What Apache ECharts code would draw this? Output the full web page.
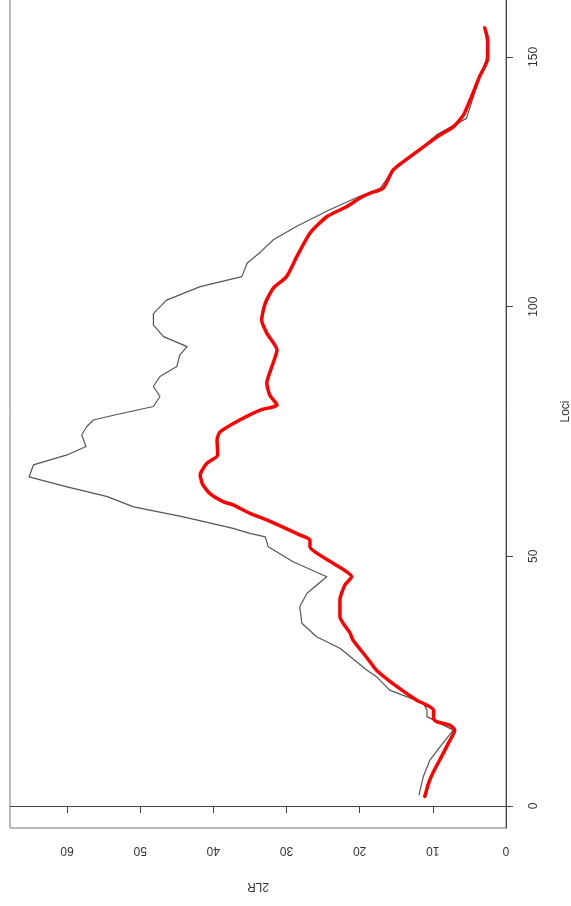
<!DOCTYPE html>
<html>
<head>
<meta charset="utf-8">
<script src="https://cdn.jsdelivr.net/npm/echarts@6/dist/echarts.min.js"></script>
<style>
  html, body { margin: 0; padding: 0; background: #fff; }
  #chart { width: 571px; height: 906px; }
</style>
</head>
<body>
<div id="chart"></div>
<script>
// Loci positions and 2LR values for the two profiles
const grayLoci = [2.2, 5.9, 9.2, 11.9, 15.2, 17.9, 19.2, 20.6, 23.2, 25.9, 27.2, 31.6, 33.9, 36.6, 39.9, 42.6, 45.9, 48.9, 51.9, 53.9, 54.6, 55.6, 57.9, 59.9, 62.0, 63.9, 65.9, 68.3, 70.3, 72.0, 74.3, 76.0, 77.3, 78.3, 80.0, 82.0, 84.0, 86.0, 88.0, 90.3, 92.0, 94.0, 96.3, 98.6, 101.3, 104.0, 106.0, 108.7, 111.0, 113.4, 116.1, 119.4, 122.1, 123.7, 127.4, 131.0, 134.4, 137.7, 144.1, 149.5, 152.8, 156.1];
const grayLR   = [11.9, 11.3, 10.4, 9.0, 7.2, 10.8, 10.8, 11.3, 15.9, 17.7, 19.0, 22.7, 25.9, 27.9, 28.2, 27.2, 24.5, 29.1, 32.5, 32.9, 35.0, 37.3, 44.1, 50.9, 54.6, 60.0, 65.2, 64.6, 60.0, 57.4, 58.0, 57.3, 56.4, 53.5, 48.2, 47.3, 48.2, 47.3, 45.0, 44.6, 43.6, 46.8, 48.2, 48.2, 46.4, 41.8, 36.1, 35.4, 33.5, 31.8, 28.6, 24.1, 20.0, 17.2, 15.4, 12.2, 9.5, 5.4, 4.0, 2.7, 2.6, 3.0];

const redLoci = [1.9, 4.5, 6.9, 10.5, 12.5, 15.2, 16.2, 16.9, 17.5, 19.2, 20.2, 21.2, 23.9, 27.2, 29.5, 33.2, 34.6, 37.9, 41.3, 44.3, 45.9, 48.6, 51.9, 53.3, 54.3, 57.3, 58.6, 60.3, 60.9, 62.6, 64.5, 66.3, 68.6, 70.3, 73.3, 74.9, 77.3, 79.3, 80.3, 82.3, 84.7, 88.0, 91.3, 94.7, 97.3, 100.7, 103.7, 106.0, 110.0, 114.7, 118.0, 120.0, 121.7, 122.7, 123.7, 127.4, 131.0, 134.1, 136.0, 138.4, 142.1, 146.1, 149.7, 153.4, 155.8];
const redLR   = [11.1, 10.6, 9.9, 8.6, 7.9, 7.0, 7.7, 9.5, 9.9, 9.9, 10.8, 12.2, 14.9, 17.7, 18.9, 20.9, 21.3, 22.7, 22.7, 22.0, 21.1, 23.6, 26.8, 26.8, 28.2, 32.7, 35.0, 37.3, 38.6, 40.5, 41.5, 41.8, 40.9, 39.4, 39.5, 39.1, 36.4, 33.6, 31.3, 32.3, 32.7, 32.0, 31.3, 32.7, 33.4, 32.9, 31.8, 30.0, 28.6, 26.8, 24.5, 21.8, 20.0, 18.6, 16.8, 15.4, 12.2, 9.3, 7.2, 5.8, 4.7, 3.6, 2.5, 2.5, 2.9];

// Tick labels
const lrTicks = [0, 10, 20, 30, 40, 50, 60];
const lociTicks = [0, 50, 100, 150];

const pairs = (lr, loci) => lr.map((v, i) => [v, loci[i]]);

const chart = echarts.init(document.getElementById('chart'), null, { renderer: 'canvas' });

const axisFont = { fontFamily: 'Liberation Sans, Arial, sans-serif', fontSize: 12, color: '#333' };

chart.setOption({
  backgroundColor: '#ffffff',
  animation: false,
  grid: {
    left: 10, right: 65, top: -5, bottom: 78,
    containLabel: false,
    outerBoundsMode: 'none',
    show: true, borderColor: '#777', borderWidth: 1, backgroundColor: 'transparent'
  },
  xAxis: {
    type: 'value',
    inverse: true,
    min: 0, max: 67.8,
    position: 'bottom',
    axisLine: { show: true, lineStyle: { color: '#444', width: 1 } },
    axisTick: { show: true, inside: false, length: 7, customValues: lrTicks, lineStyle: { color: '#444' } },
    axisLabel: Object.assign({ rotate: 180, margin: 16, customValues: lrTicks }, axisFont),
    splitLine: { show: false },
    name: '2LR',
    nameLocation: 'middle',
    nameGap: 52,
    nameRotate: 180,
    nameTextStyle: axisFont
  },
  yAxis: {
    type: 'value',
    min: -4.4, max: 162.4,
    position: 'right',
    axisLine: { show: true, onZero: false, lineStyle: { color: '#444', width: 1 } },
    axisTick: { show: true, inside: false, length: 7, customValues: lociTicks, lineStyle: { color: '#444' } },
    axisLabel: Object.assign({ rotate: 90, margin: 22, customValues: lociTicks }, axisFont),
    splitLine: { show: false },
    name: 'Loci',
    nameLocation: 'middle',
    nameGap: 54,
    nameRotate: 90,
    nameTextStyle: axisFont
  },
  series: [
    {
      name: 'gray',
      type: 'line',
      data: pairs(grayLR, grayLoci),
      showSymbol: false,
      smooth: false,
      lineStyle: { color: '#555', width: 1.2, join: 'round' },
      z: 2
    },
    {
      name: 'red',
      type: 'line',
      data: pairs(redLR, redLoci),
      showSymbol: false,
      smooth: 0.2,
      lineStyle: { color: '#ff0000', width: 3.5, join: 'round', cap: 'round' },
      z: 3
    }
  ]
});
</script>
</body>
</html>
